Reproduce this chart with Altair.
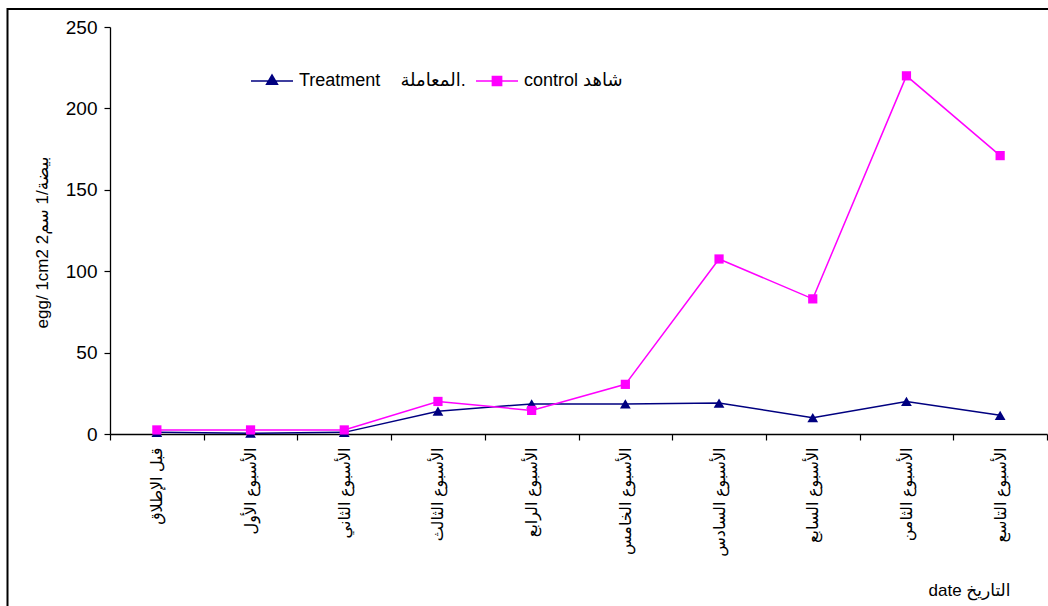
import altair as alt
import pandas as pd

# Weekly egg counts per cm2 for the treated plot and the untreated control
weeks = [
    "قبل الإطلاق",
    "الأسبوع الأول",
    "الأسبوع الثاني",
    "الأسبوع الثالث",
    "الأسبوع الرابع",
    "الأسبوع الخامس",
    "الأسبوع السادس",
    "الأسبوع السابع",
    "الأسبوع الثامن",
    "الأسبوع التاسع",
]
treatment = [1, 0.5, 1, 14, 18.5, 18.5, 19, 10, 20, 11.5]
control = [2.5, 2.5, 2.5, 20, 14.5, 30.5, 107.5, 83, 220, 171]

series_names = ["Treatment\u00a0\u00a0\u00a0 المعاملة.", "control شاهد"]
series_colors = ["#000080", "#FF00FF"]
y_ticks = [0, 50, 100, 150, 200, 250]

rows = []
for name, values in zip(series_names, [treatment, control]):
    for week, value in zip(weeks, values):
        rows.append({"week": week, "value": value, "series": name})
df = pd.DataFrame(rows)

FONT = "Arial, 'Liberation Sans', 'DejaVu Sans', sans-serif"

x_enc = alt.X(
    "week:N",
    sort=weeks,
    scale=alt.Scale(type="band", paddingInner=0, paddingOuter=0),
    title="date التاريخ",
    axis=alt.Axis(
        labelAngle=270,
        labelFont=FONT,
        labelFontSize=16,
        labelColor="black",
        labelPadding=7,
        labelLimit=0,
        tickBand="extent",
        tickSize=6,
        tickColor="black",
        tickWidth=1.2,
        domainColor="black",
        domainWidth=1.3,
        titleFont=FONT,
        titleFontSize=17,
        titleFontWeight="normal",
        titleColor="black",
        titleX=900,
        titleY=156,
        titleAlign="right",
        titleBaseline="middle",
    ),
)
y_enc = alt.Y(
    "value:Q",
    scale=alt.Scale(domain=[0, 250], nice=False, zero=True),
    title="egg/ 1cm2  بيضة/1 سم2",
    axis=alt.Axis(
        values=y_ticks,
        grid=False,
        labelFont=FONT,
        labelFontSize=19,
        labelColor="black",
        labelPadding=7,
        tickSize=6,
        tickColor="black",
        tickWidth=1.2,
        domainColor="black",
        domainWidth=1.3,
        titleFont=FONT,
        titleFontSize=17,
        titleFontWeight="normal",
        titleColor="black",
        titleAngle=270,
        titleX=-68,
        titleY=215,
        titleAlign="center",
        titleBaseline="middle",
    ),
)

base = alt.Chart(df)


def series_layers(name, color, shape, size):
    part = base.transform_filter(alt.datum.series == name)
    line = part.mark_line(color=color, strokeWidth=1.5).encode(x=x_enc, y=y_enc)
    pts = part.mark_point(filled=True, color=color, shape=shape, size=size, opacity=1).encode(
        x=x_enc, y=y_enc
    )
    return [line, pts]


# Legend symbols: a short line segment with the series marker on it
legend_shapes = [
    "M-1,0H1M-0.26,0.16L0,-0.29L0.26,0.16Z",
    "M-1,0H1M-0.22,-0.22H0.22V0.22H-0.22Z",
]
legend_def = alt.Legend(
    title=None,
    orient="none",
    legendX=140,
    legendY=32,
    direction="horizontal",
    columns=2,
    columnPadding=7,
    padding=0,
    labelOffset=5,
    labelFont=FONT,
    labelFontSize=18,
    labelColor="black",
    labelLimit=0,
    symbolSize=1764,
    symbolStrokeWidth=1.5,
    symbolOpacity=1,
)
legend_layer = (
    base.transform_filter("datum.value < 0")
    .mark_point(filled=True, opacity=1)
    .encode(
        x=x_enc,
        y=y_enc,
        fill=alt.Fill("series:N", scale=alt.Scale(domain=series_names, range=series_colors), legend=legend_def),
        stroke=alt.Stroke("series:N", scale=alt.Scale(domain=series_names, range=series_colors), legend=legend_def),
        shape=alt.Shape("series:N", scale=alt.Scale(domain=series_names, range=legend_shapes), legend=legend_def),
    )
)

# Outer chart frame (top and left edges)
frame_src = alt.Chart(pd.DataFrame({"k": [0]}))
frame_top = frame_src.mark_rule(color="black", strokeWidth=2).encode(
    x=alt.value(-102.5), x2=alt.value(938), y=alt.value(-18)
)
frame_left = frame_src.mark_rule(color="black", strokeWidth=2).encode(
    x=alt.value(-102.5), y=alt.value(-19), y2=alt.value(579)
)

layers = (
    series_layers(series_names[0], series_colors[0], "triangle-up", 115)
    + series_layers(series_names[1], series_colors[1], "square", 85)
    + [legend_layer, frame_top, frame_left]
)

chart = (
    alt.layer(*layers)
    .properties(
        width=937,
        height=407,
        autosize=alt.AutoSizeParams(type="none"),
        padding={"left": 110, "top": 27, "right": 1, "bottom": 172},
        background="white",
    )
    .configure_view(stroke=None)
)

chart.save("out.html", embed_options={"renderer": "svg", "actions": False})
